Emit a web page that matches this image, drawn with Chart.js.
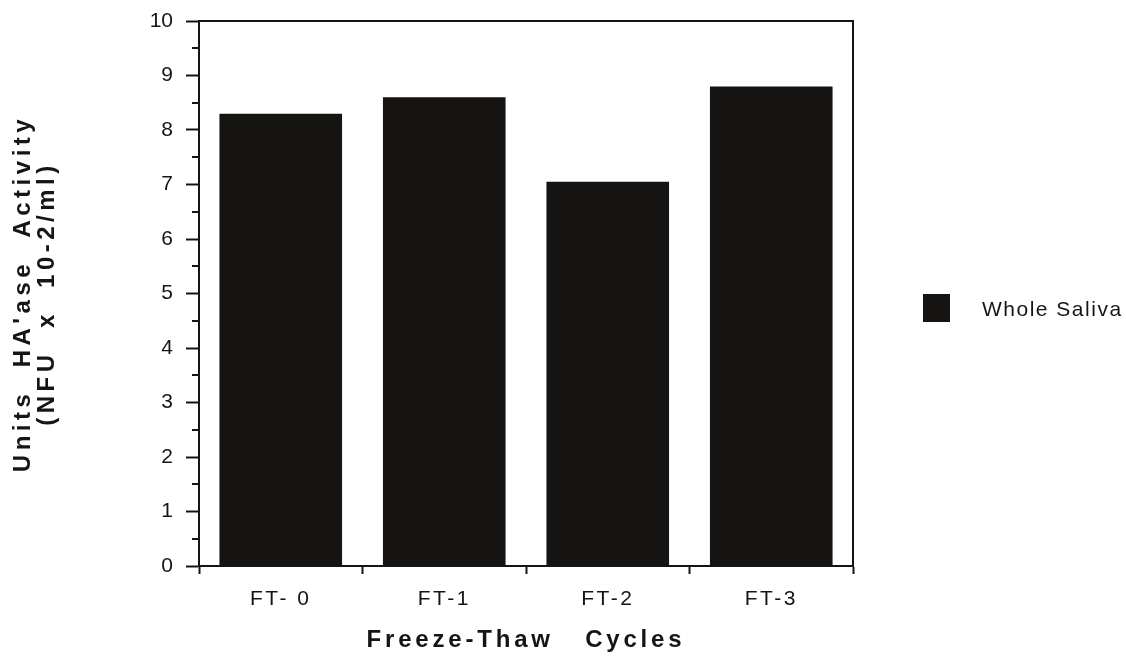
<!DOCTYPE html>
<html>
<head>
<meta charset="utf-8">
<script src="https://cdn.jsdelivr.net/npm/chart.js@4/dist/chart.umd.min.js"></script>
<style>
  html, body { margin: 0; padding: 0; background: #fff; }
  #wrap { width: 1126px; height: 657px; position: relative; }
</style>
</head>
<body>
<div id="wrap"><canvas id="chart"></canvas></div>
<script>
const categories = ['FT- 0', 'FT-1', 'FT-2', 'FT-3'];
const wholeSaliva = [8.3, 8.6, 7.05, 8.8];
const yTickValues = [0, 1, 2, 3, 4, 5, 6, 7, 8, 9, 10];
const yMinorTicks = [0.5, 1.5, 2.5, 3.5, 4.5, 5.5, 6.5, 7.5, 8.5, 9.5];
const seriesLabel = 'Whole Saliva';
const xTitle = 'Freeze-Thaw   Cycles';
const yTitle = ["Units  HA'ase  Activity", '(NFU  x  10-2/ml)'];

const ink = '#161412';
const textInk = '#151515';
const fam = '"Liberation Sans", Arial, Helvetica, sans-serif';

// old typeset look: each text part gets its own letter spacing
const letterGaps = {
  x: { title: '3.8px', labels: '2.5px' },
  y: { title: '4.5px', labels: '0px' },
};

function withGap(chart, fn, gap) {
  return function (...args) {
    const ctx = chart.ctx;
    const prev = ctx.letterSpacing;
    ctx.letterSpacing = gap;
    fn.apply(this, args);
    ctx.letterSpacing = prev;
  };
}

const spacing = {
  id: 'spacing',
  beforeDraw(chart) {
    Object.keys(letterGaps).forEach(id => {
      const s = chart.scales[id];
      if (!s || s._gapped) return;
      s.drawTitle = withGap(chart, s.drawTitle, letterGaps[id].title);
      s.drawLabels = withGap(chart, s.drawLabels, letterGaps[id].labels);
      s._gapped = true;
    });
  },
};

// minor ticks on y, top and right frame lines
const frame = {
  id: 'frame',
  beforeDatasetsDraw(chart) {
    const { ctx, chartArea: a } = chart;
    const y = chart.scales.y;
    ctx.save();
    ctx.strokeStyle = ink;
    ctx.lineWidth = 2;
    ctx.beginPath();
    yMinorTicks.forEach(v => {
      const py = Math.round(y.getPixelForValue(v));
      ctx.moveTo(a.left - 7, py);
      ctx.lineTo(a.left, py);
    });
    ctx.moveTo(a.left - 1, a.top);
    ctx.lineTo(a.right, a.top);
    ctx.lineTo(a.right, a.bottom + 1);
    ctx.stroke();
    ctx.restore();
  },
};

const legendBox = {
  id: 'legendBox',
  afterDraw(chart) {
    const { ctx } = chart;
    const ds = chart.data.datasets[0];
    ctx.save();
    ctx.fillStyle = ds.backgroundColor;
    ctx.fillRect(923, 294, 27, 28);
    ctx.letterSpacing = '1.5px';
    ctx.fillStyle = textInk;
    ctx.font = '21px ' + fam;
    ctx.textBaseline = 'middle';
    ctx.textAlign = 'left';
    ctx.fillText(ds.label, 982, 310);
    ctx.restore();
  },
};

new Chart(document.getElementById('chart'), {
  type: 'bar',
  data: {
    labels: categories,
    datasets: [{
      label: seriesLabel,
      data: wholeSaliva,
      backgroundColor: ink,
      borderWidth: 0,
      categoryPercentage: 1,
      barPercentage: 0.75,
    }],
  },
  options: {
    responsive: true,
    maintainAspectRatio: false,
    animation: false,
    layout: { padding: { top: 21, right: 273, left: 0, bottom: 0 } },
    plugins: { legend: { display: false }, tooltip: { enabled: false } },
    scales: {
      x: {
        afterFit(s) { s.height = 91; s.paddingLeft = 0; s.paddingRight = 0; },
        grid: { drawOnChartArea: false, tickLength: 8, tickWidth: 2, tickColor: ink },
        border: { display: true, width: 2, color: ink },
        ticks: { color: textInk, font: { family: fam, size: 21 }, padding: 13 },
        title: {
          display: true, text: xTitle, color: textInk,
          font: { family: fam, size: 24, weight: 'bold', lineHeight: 1.2 },
          padding: { top: 0, bottom: 2 },
        },
      },
      y: {
        min: 0,
        max: 10,
        afterFit(s) { s.width = 199; s.paddingTop = 0; s.paddingBottom = 0; },
        afterBuildTicks(s) { s.ticks = yTickValues.map(v => ({ value: v })); },
        grid: { drawOnChartArea: false, tickLength: 13, tickWidth: 2, tickColor: ink },
        border: { display: true, width: 2, color: ink },
        ticks: { color: textInk, font: { family: fam, size: 21 }, padding: 13 },
        title: {
          display: true, text: yTitle, color: textInk,
          font: { family: fam, size: 24, weight: 'bold', lineHeight: 1.0 },
          padding: { top: 11, bottom: 0 },
        },
      },
    },
  },
  plugins: [spacing, frame, legendBox],
});
</script>
</body>
</html>
